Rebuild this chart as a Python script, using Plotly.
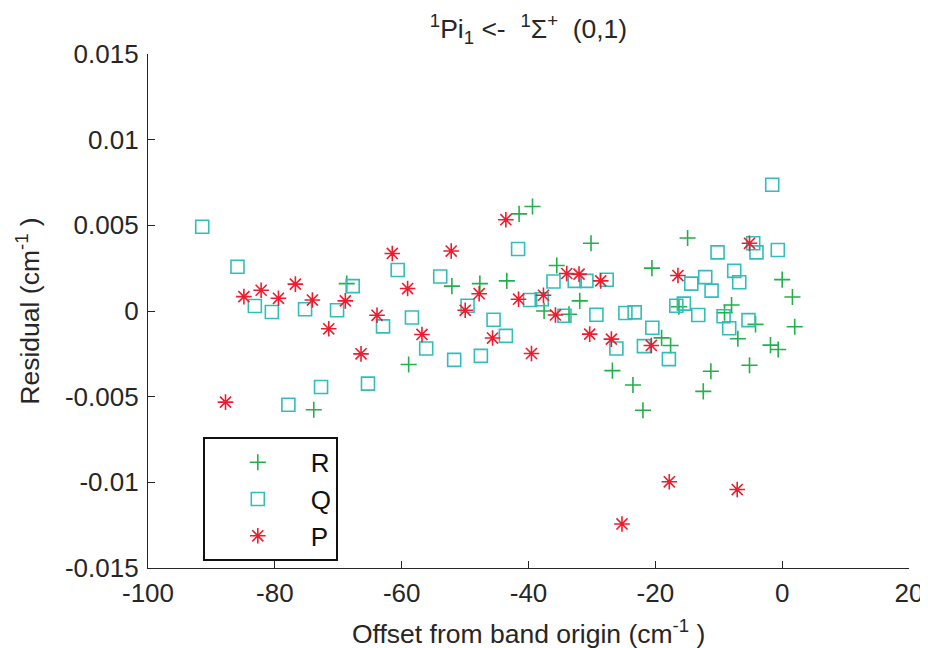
import plotly.graph_objects as go

# R branch
r_x = [-73.86, -68.66, -58.90, -52.08, -47.67, -43.42, -41.48, -39.37, -37.54, -35.54,
       -33.61, -31.92, -30.14, -26.77, -23.53, -21.95, -20.54, -19.01, -17.59, -16.28,
       -14.91, -12.44, -11.24, -9.09, -7.98, -6.99, -5.15, -4.20, -1.84, -0.63,
       0.00, 1.62, 1.98]
r_y = [-0.00576, 0.00160, -0.00312, 0.00145, 0.00160, 0.00176, 0.00567, 0.00610, 0.00000, 0.00266,
       -0.00019, 0.00059, 0.00395, -0.00348, -0.00432, -0.00579, 0.00250, -0.00157, -0.00201, 0.00025,
       0.00426, -0.00469, -0.00352, -0.00010, 0.00035, -0.00162, -0.00317, -0.00078, -0.00199, -0.00225,
       0.00183, 0.00082, -0.00092]

# Q branch
q_x = [-91.45, -85.89, -83.15, -80.47, -77.86, -75.23, -72.71, -70.19, -67.72, -65.31,
       -62.94, -60.63, -58.38, -56.13, -53.92, -51.72, -49.61, -47.51, -45.51, -43.57,
       -41.64, -39.75, -37.91, -36.06, -34.33, -32.71, -30.87, -29.29, -27.67, -26.14,
       -24.72, -23.26, -21.80, -20.47, -17.86, -16.69, -15.50, -14.33, -13.23, -12.13,
       -11.13, -10.19, -9.24, -8.35, -7.56, -6.77, -5.31, -4.57, -4.05, -1.57, -0.69]
q_y = [0.00492, 0.00258, 0.00029, -0.00006, -0.00547, 0.00010, -0.00444, 0.00004, 0.00145, -0.00424,
       -0.00090, 0.00239, -0.00038, -0.00219, 0.00201, -0.00285, 0.00031, -0.00262, -0.00051, -0.00145,
       0.00362, 0.00064, 0.00069, 0.00172, -0.00028, 0.00176, 0.00176, -0.00022, 0.00182, -0.00219,
       -0.00012, -0.00008, -0.00205, -0.00098, -0.00281, 0.00031, 0.00043, 0.00160, -0.00023, 0.00198,
       0.00119, 0.00342, -0.00031, -0.00101, 0.00234, 0.00168, -0.00053, 0.00395, 0.00342, 0.00737, 0.00356]

# P branch
p_x = [-87.78, -84.88, -82.16, -79.43, -76.76, -74.08, -71.50, -68.88, -66.41, -63.89,
       -61.48, -59.06, -56.80, -52.19, -49.98, -47.78, -45.67, -43.57, -41.57, -39.53,
       -37.64, -35.75, -33.97, -32.03, -30.35, -28.61, -26.93, -25.26, -20.63, -17.80,
       -16.44, -7.09, -5.15]
p_y = [-0.00532, 0.00084, 0.00121, 0.00074, 0.00157, 0.00064, -0.00104, 0.00059, -0.00250, -0.00025,
       0.00336, 0.00131, -0.00137, 0.00350, 0.00004, 0.00101, -0.00158, 0.00533, 0.00069, -0.00248,
       0.00092, -0.00023, 0.00219, 0.00215, -0.00135, 0.00176, -0.00164, -0.01243, -0.00201, -0.00997,
       0.00207, -0.01042, 0.00395]

x_ticks = [-100, -80, -60, -40, -20, 0, 20]
x_tick_labels = ["-100", "-80", "-60", "-40", "-20", "0", "20"]
y_ticks = [-0.015, -0.01, -0.005, 0, 0.005, 0.01, 0.015]
y_tick_labels = ["-0.015", "-0.01", "-0.005", "0", "0.005", "0.01", "0.015"]

GREEN = "#22B04A"
TEAL = "#33BDBA"
RED = "#EE1C2E"
FONT = "Liberation Sans, Arial, sans-serif"
TXT = "#262626"
FS = 26
FT = 26.5

# figure sized to fit inside the page's default 8px body margin
W, H = 920, 640
ML, MR, MT, MB = 140, 19, 46, 80
PW, PH = W - ML - MR, H - MT - MB

fig = go.Figure()
fig.add_trace(go.Scatter(x=r_x, y=r_y, mode="markers", name="R", legendgroup="R",
                         marker=dict(symbol="cross-thin-open", size=11.5, color=GREEN,
                                     line=dict(color=GREEN, width=1.6))))
fig.add_trace(go.Scatter(x=q_x, y=q_y, mode="markers", name="Q", legendgroup="Q",
                         marker=dict(symbol="square-open", size=13, color=TEAL,
                                     line=dict(color=TEAL, width=1.6))))
fig.add_trace(go.Scatter(x=p_x, y=p_y, mode="markers", name="P", legendgroup="P",
                         marker=dict(symbol="asterisk-open", size=13, color=RED,
                                     line=dict(color=RED, width=1.6))))

axis_common = dict(showgrid=False, zeroline=False, showline=True, linecolor=TXT, linewidth=1.3,
                   ticks="inside", ticklen=7, tickcolor=TXT, tickwidth=1.3, automargin=False,
                   tickfont=dict(family=FONT, size=FS, color=TXT), mirror=False)

fig.update_layout(
    width=W, height=H,
    paper_bgcolor="white", plot_bgcolor="white",
    margin=dict(l=ML, r=MR, t=MT, b=MB),
    font=dict(family=FONT, size=FS, color=TXT),
    title=dict(text="<sup>1</sup>Pi<sub>1</sub> <-  <sup>1</sup>Σ<sup>+</sup>  (0,1)",
               x=(ML + PW / 2) / W, xanchor="center", y=1 - 21 / H, yanchor="middle",
               font=dict(family=FONT, size=FT, color=TXT)),
    xaxis=dict(range=[-100, 20], tickvals=x_ticks, ticktext=x_tick_labels,
               ticklabelstandoff=2, **axis_common),
    yaxis=dict(range=[-0.015, 0.015], tickvals=y_ticks, ticktext=y_tick_labels,
               ticklabelstandoff=3,
               title=dict(text="Residual (cm<sup>-1</sup> )", standoff=17,
                          font=dict(family=FONT, size=FT, color=TXT)),
               **axis_common),
    annotations=[dict(text="Offset from band origin (cm<sup>-1</sup> )",
                      xref="paper", yref="paper", x=0.5, y=-64 / PH,
                      xanchor="center", yanchor="middle", showarrow=False,
                      font=dict(family=FONT, size=FT, color=TXT))],
    showlegend=True,
    legend=dict(x=(195 - ML) / PW, y=(MT + PH - 429) / PH, xanchor="left", yanchor="top",
                bgcolor="white", bordercolor="#111111", borderwidth=1.8,
                font=dict(family=FONT, size=FS, color="#111111"),
                itemwidth=96, tracegroupgap=0),
)

fig.write_html("out.html")
